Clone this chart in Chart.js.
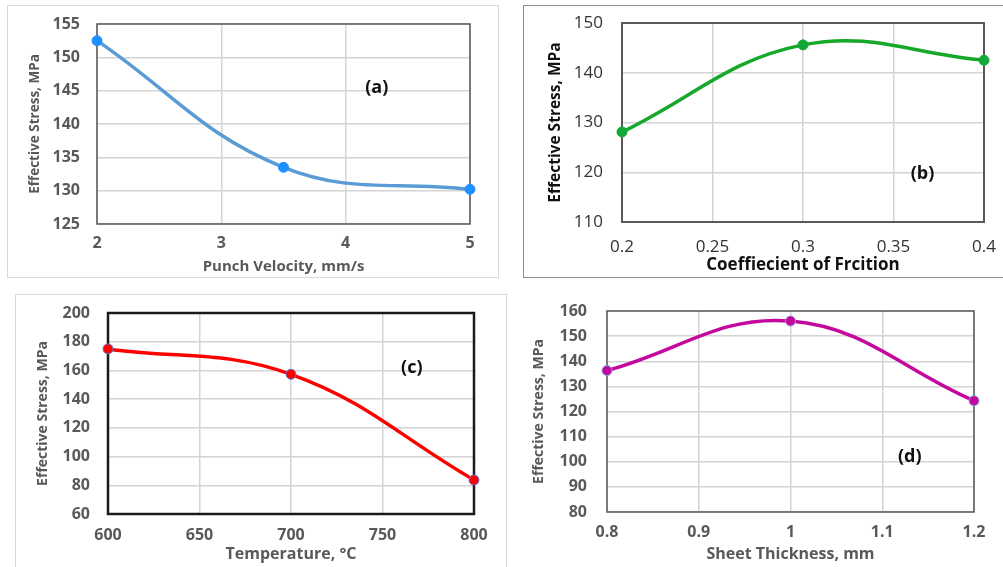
<!DOCTYPE html>
<html>
<head>
<meta charset="utf-8">
<script src="https://cdn.jsdelivr.net/npm/chart.js@4.4.1/dist/chart.umd.min.js"></script>
<style>
  html, body { margin: 0; padding: 0; background: #fff; overflow: hidden; }
  body { width: 1003px; height: 567px; position: relative; }
  .frame { position: absolute; box-sizing: border-box; }
  canvas { position: absolute; }
</style>
</head>
<body>
<div class="frame" style="left:7px;top:5px;width:492px;height:273px;border:1px solid #d9d9d9"></div>
<div class="frame" style="left:523px;top:5px;width:500px;height:273px;border:1px solid #8c8c8c"></div>
<div class="frame" style="left:15px;top:294px;width:492px;height:290px;border:1px solid #d9d9d9"></div>

<canvas id="chartA" width="492" height="273" style="left:7px;top:5px"></canvas>
<canvas id="chartB" width="480" height="273" style="left:523px;top:5px"></canvas>
<canvas id="chartC" width="491" height="272" style="left:15px;top:294px"></canvas>
<canvas id="chartD" width="496" height="273" style="left:507px;top:294px"></canvas>

<script>
// (a) punch velocity
const velocity = [2, 3.5, 5];
const stressA = [152.5, 133.5, 130.2];
const xTicksA = [2, 3, 4, 5];
const yTicksA = [125, 130, 135, 140, 145, 150, 155];

// (b) friction coefficient
const friction = [0.2, 0.3, 0.4];
const stressB = [128.1, 145.6, 142.5];
const xTicksB = [0.2, 0.25, 0.3, 0.35, 0.4];
const yTicksB = [110, 120, 130, 140, 150];

// (c) temperature
const temperature = [600, 700, 800];
const stressC = [175, 157.3, 83.7];
const xTicksC = [600, 650, 700, 750, 800];
const yTicksC = [60, 80, 100, 120, 140, 160, 180, 200];

// (d) sheet thickness
const thickness = [0.8, 1.0, 1.2];
const stressD = [136.3, 156, 124.3];
const xTicksD = [0.8, 0.9, 1, 1.1, 1.2];
const yTicksD = [80, 90, 100, 110, 120, 130, 140, 150, 160];

Chart.defaults.font.family = "'Open Sans', sans-serif";
Chart.defaults.devicePixelRatio = 1;

const boxPlugin = {
  id: 'plotBox',
  beforeDatasetsDraw(chart, args, opts) {
    const { ctx, chartArea: a } = chart;
    ctx.save();
    ctx.strokeStyle = opts.color;
    ctx.lineWidth = opts.width;
    ctx.strokeRect(a.left, a.top, a.right - a.left, a.bottom - a.top);
    ctx.restore();
  },
  afterDatasetsDraw(chart, args, opts) {
    const { ctx, scales } = chart;
    ctx.save();
    ctx.font = 'bold 18px "Open Sans", sans-serif';
    ctx.fillStyle = '#111';
    ctx.textAlign = 'center';
    ctx.textBaseline = 'middle';
    ctx.fillText(opts.label, scales.x.getPixelForValue(opts.at[0]), scales.y.getPixelForValue(opts.at[1]));
    ctx.restore();
  }
};

function panel(id, p) {
  const gridColor = '#d4d4d4';
  new Chart(document.getElementById(id), {
    type: 'line',
    data: {
      datasets: [{
        data: p.xs.map((x, i) => ({ x: x, y: p.ys[i] })),
        borderColor: p.line,
        borderWidth: p.lineWidth,
        tension: 0.4,
        pointRadius: 5,
        pointBackgroundColor: p.marker,
        pointBorderColor: p.markerEdge,
        pointBorderWidth: 1,
        clip: false
      }]
    },
    options: {
      responsive: false,
      animation: false,
      events: [],
      layout: { padding: { left: 0, top: p.padTop, right: p.padRight, bottom: 0 } },
      plugins: {
        legend: { display: false },
        tooltip: { enabled: false },
        plotBox: { color: p.boxColor, width: p.boxWidth, label: p.label, at: p.labelAt }
      },
      scales: {
        x: {
          type: 'linear',
          min: p.xTicks[0],
          max: p.xTicks[p.xTicks.length - 1],
          afterBuildTicks: s => { s.ticks = p.xTicks.map(v => ({ value: v })); },
          afterFit: s => { s.height = p.xAxisH; s.paddingLeft = 0; s.paddingRight = 0; },
          grid: { color: gridColor, lineWidth: 1.5, drawTicks: false },
          border: { display: false },
          ticks: {
            padding: p.xTickPad,
            color: p.tickColor,
            font: { size: p.tickSize, weight: p.tickWeight },
            maxRotation: 0,
            callback: v => String(v)
          },
          title: {
            display: true,
            text: p.xTitle,
            color: p.titleColor,
            font: { size: p.xTitleSize, weight: 'bold' },
            padding: { top: 0, bottom: p.xTitlePad }
          }
        },
        y: {
          min: p.yTicks[0],
          max: p.yTicks[p.yTicks.length - 1],
          afterBuildTicks: s => { s.ticks = p.yTicks.map(v => ({ value: v })); },
          afterFit: s => { s.width = p.yAxisW; s.paddingTop = 0; s.paddingBottom = 0; },
          grid: { color: gridColor, lineWidth: 1.5, drawTicks: false },
          border: { display: false },
          ticks: {
            padding: p.yTickPad,
            color: p.tickColor,
            font: { size: p.tickSize, weight: p.tickWeight },
            callback: v => String(v)
          },
          title: {
            display: true,
            text: 'Effective Stress, MPa',
            color: p.titleColor,
            font: { size: p.yTitleSize, weight: 'bold' },
            padding: { top: p.yTitlePad, bottom: 0 }
          }
        }
      }
    },
    plugins: [boxPlugin]
  });
}

panel('chartA', {
  xs: velocity, ys: stressA, xTicks: xTicksA, yTicks: yTicksA,
  line: '#5b9bd5', lineWidth: 3.5, marker: '#1e90ff', markerEdge: '#1e90ff',
  padTop: 19, padRight: 29, xAxisH: 54, yAxisW: 90,
  xTickPad: 10, yTickPad: 17, tickSize: 16, tickWeight: 'bold', tickColor: '#595959',
  xTitle: 'Punch Velocity, mm/s', xTitleSize: 15, xTitlePad: 2,
  yTitleSize: 13.5, yTitlePad: 20, titleColor: '#595959',
  boxColor: '#595959', boxWidth: 1.5, label: '(a)', labelAt: [4.25, 145.4]
});

panel('chartB', {
  xs: friction, ys: stressB, xTicks: xTicksB, yTicks: yTicksB,
  line: '#17a82a', lineWidth: 3.5, marker: '#12a83a', markerEdge: '#12a83a',
  padTop: 18, padRight: 19, xAxisH: 56, yAxisW: 99,
  xTickPad: 15, yTickPad: 19, tickSize: 17, tickWeight: 'normal', tickColor: '#333333',
  xTitle: 'Coeffiecient of Frcition', xTitleSize: 17, xTitlePad: 3,
  yTitleSize: 15.5, yTitlePad: 23, titleColor: '#111111',
  boxColor: '#595959', boxWidth: 2, label: '(b)', labelAt: [0.366, 119.6]
});

panel('chartC', {
  xs: temperature, ys: stressC, xTicks: xTicksC, yTicks: yTicksC,
  line: '#ff0000', lineWidth: 3.5, marker: '#ff0000', markerEdge: '#5b7bd5',
  padTop: 19, padRight: 32, xAxisH: 52, yAxisW: 93,
  xTickPad: 12, yTickPad: 18, tickSize: 16, tickWeight: 'bold', tickColor: '#595959',
  xTitle: 'Temperature, \u00b0C', xTitleSize: 16, xTitlePad: 2,
  yTitleSize: 14, yTitlePad: 20, titleColor: '#595959',
  boxColor: '#1a1a1a', boxWidth: 2.5, label: '(c)', labelAt: [766, 162]
});

panel('chartD', {
  xs: thickness, ys: stressD, xTicks: xTicksD, yTicks: yTicksD,
  line: '#c4089e', lineWidth: 3.5, marker: '#c4089e', markerEdge: '#7ba3e0',
  padTop: 17, padRight: 29, xAxisH: 55, yAxisW: 100,
  xTickPad: 11, yTickPad: 20, tickSize: 16, tickWeight: 'bold', tickColor: '#595959',
  xTitle: 'Sheet Thickness, mm', xTitleSize: 16, xTitlePad: 3,
  yTitleSize: 14, yTitlePad: 24, titleColor: '#595959',
  boxColor: '#595959', boxWidth: 1.5, label: '(d)', labelAt: [1.13, 102]
});
</script>
</body>
</html>
